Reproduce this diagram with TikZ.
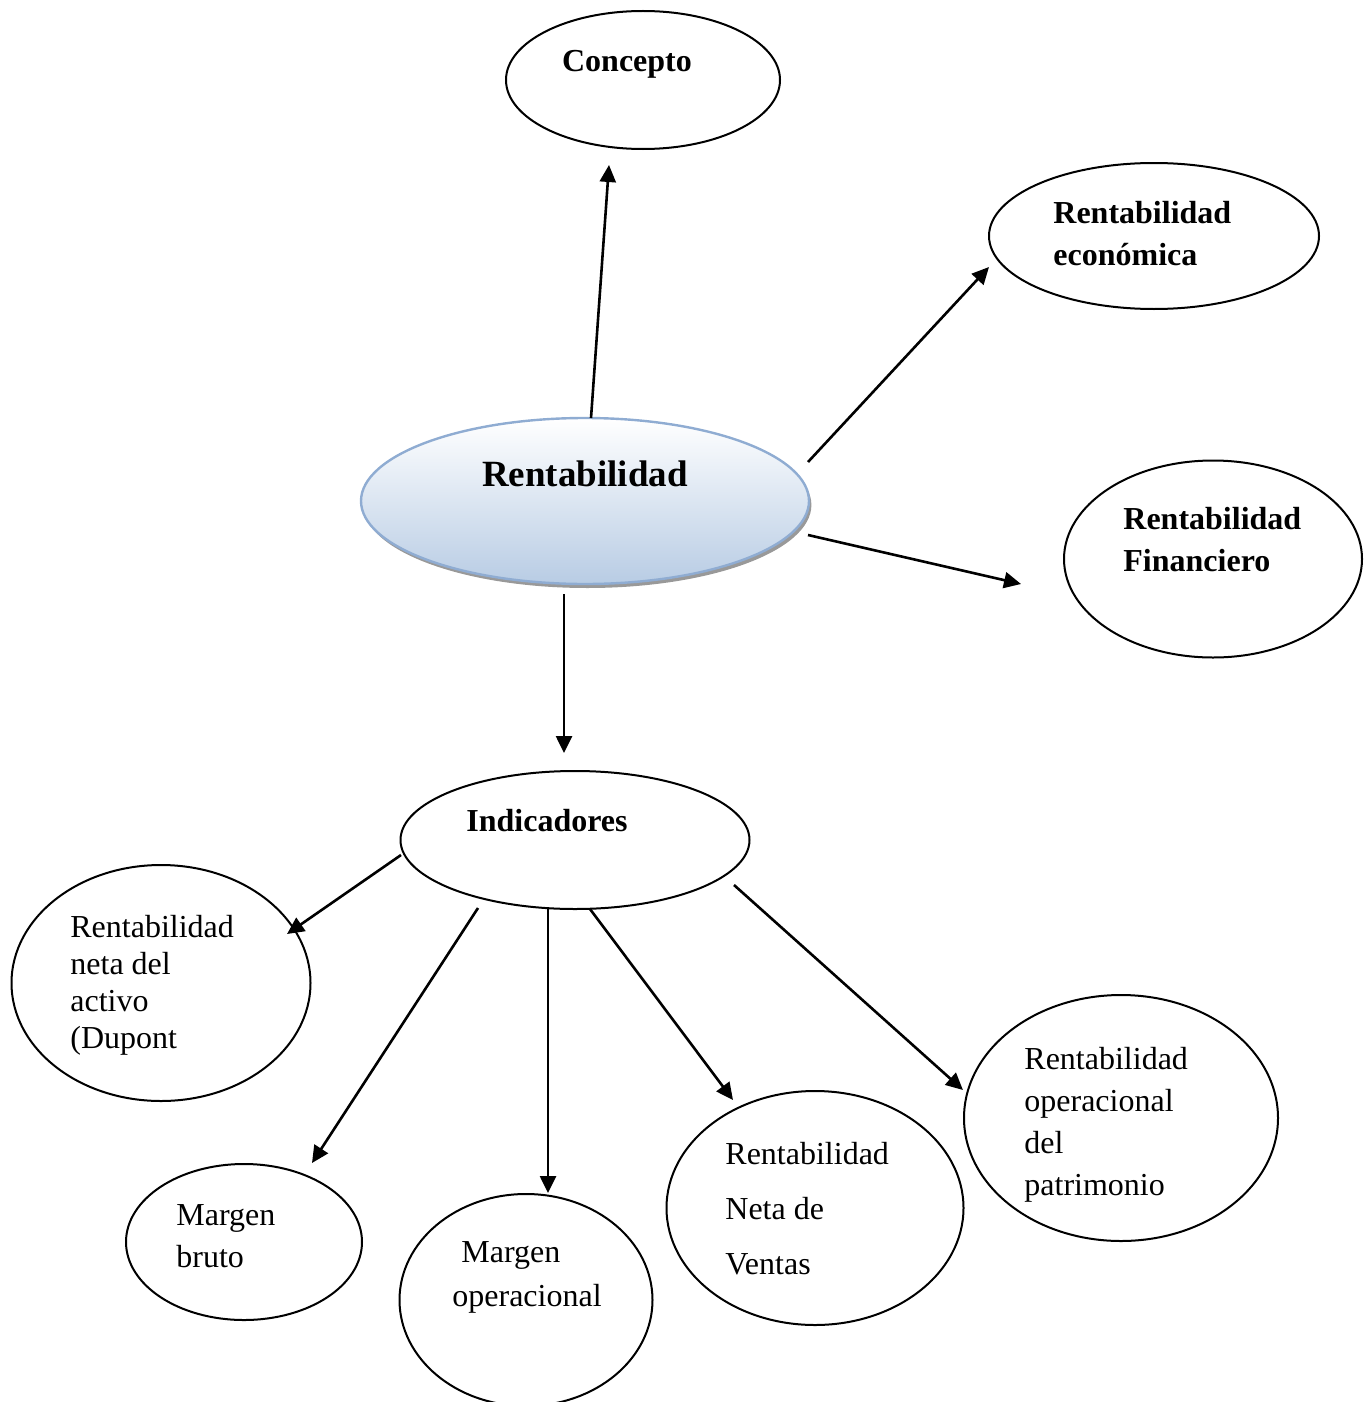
\documentclass[tikz,border=0pt]{standalone}
\usepackage{fontspec}
\setmainfont{Liberation Serif}
\usetikzlibrary{arrows.meta,shapes.geometric,shadows}
\definecolor{bubbletop}{RGB}{255,255,255}
\definecolor{bubblebot}{RGB}{184,204,228}
\definecolor{bubbleline}{RGB}{143,172,210}
\tikzset{
  oval/.style={ellipse,draw=black,line width=1pt,inner sep=0pt},
  mainoval/.style={ellipse,draw=bubbleline,line width=1.2pt,inner sep=0pt,
    top color=bubbletop,bottom color=bubblebot,
    drop shadow={shadow xshift=1.2pt,shadow yshift=-2pt,fill=black!50,opacity=0.8}},
  lbl/.style={inner sep=0pt,align=left,anchor=west},
  ttl/.style={inner sep=0pt,font=\bfseries\fontsize{16}{21}\selectfont},
  link/.style={line width=1.3pt,-{Triangle[length=8.5pt,width=8pt]}},
}
\begin{document}
\begin{tikzpicture}[x=0.5pt,y=-0.5pt]
\useasboundingbox (0,0) rectangle (1369,1402);

% ovals
\node[oval,minimum width=137pt,minimum height=69pt] (conc) at (643,80) {};
\node[oval,minimum width=165pt,minimum height=73pt] (eco) at (1154,236) {};
\node[oval,minimum width=149pt,minimum height=98.5pt] (fin) at (1213,559) {};
\node[mainoval,minimum width=224pt,minimum height=83pt] (rent) at (585,501) {};
\node[oval,minimum width=174.5pt,minimum height=69pt] (ind) at (575,840) {};
\node[oval,minimum width=149.5pt,minimum height=118pt] (act) at (161,983) {};
\node[oval,minimum width=118pt,minimum height=78pt] (mb) at (244,1242) {};
\node[oval,minimum width=126.5pt,minimum height=106pt] (mo) at (526,1300) {};
\node[oval,minimum width=148.5pt,minimum height=117pt] (nv) at (815,1208) {};
\node[oval,minimum width=157pt,minimum height=123pt] (pat) at (1121,1118) {};

% texts
\node[ttl] (tconc) at (627,64) {Concepto};
\node[ttl,lbl] (teco) at (1053,234) {Rentabilidad\\econ\'omica};
\node[ttl,lbl] (tfin) at (1123,540) {Rentabilidad\\Financiero};
\node[inner sep=0pt,font=\bfseries\fontsize{18.5}{22}\selectfont] (trent) at (585,474) {Rentabilidad};
\node[ttl] (tind) at (547,821) {Indicadores};
\node[lbl,font=\fontsize{16}{18.5}\selectfont] (tact) at (70,985) {Rentabilidad\\neta del\\activo\\(Dupont};
\node[lbl,font=\fontsize{16}{21}\selectfont] (tmb) at (176,1236) {Margen\\bruto};
\node[lbl,font=\fontsize{16}{22}\selectfont] (tmo) at (452,1277) {\hspace*{4.5pt}Margen\\operacional};
\node[lbl,font=\fontsize{16}{27.5}\selectfont] (tnv) at (725,1209) {Rentabilidad\\Neta de\\Ventas};
\node[lbl,font=\fontsize{16}{21}\selectfont] (tpat) at (1024,1125) {Rentabilidad\\operacional\\del\\patrimonio};

% connector end points
\coordinate (c1a) at (591,418);  \coordinate (c1b) at (609,165);
\coordinate (c2a) at (808,462);  \coordinate (c2b) at (989,267);
\coordinate (c3a) at (808,535);  \coordinate (c3b) at (1021,584);
\coordinate (c4a) at (564,594);  \coordinate (c4b) at (564,753);
\coordinate (d1a) at (401,855);  \coordinate (d1b) at (287,934);
\coordinate (d2a) at (478,908);  \coordinate (d2b) at (312,1163);
\coordinate (d3a) at (548,909);  \coordinate (d3b) at (548,1193);
\coordinate (d4a) at (590,909);  \coordinate (d4b) at (733,1100);
\coordinate (d5a) at (734,885);  \coordinate (d5b) at (963,1090);

% connectors
\draw[link] (c1a) -- (c1b);
\draw[link] (c2a) -- (c2b);
\draw[link] (c3a) -- (c3b);
\draw[link] (c4a) -- (c4b);
\draw[link] (d1a) -- (d1b);
\draw[link] (d2a) -- (d2b);
\draw[link] (d3a) -- (d3b);
\draw[link] (d4a) -- (d4b);
\draw[link] (d5a) -- (d5b);
\end{tikzpicture}
\end{document}
